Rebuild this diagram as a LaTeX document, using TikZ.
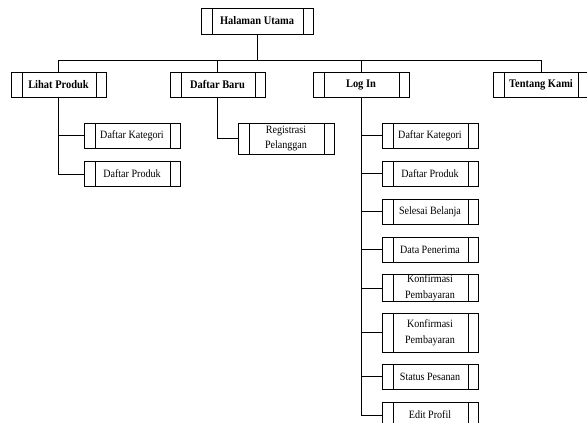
\documentclass[tikz,border=0pt]{standalone}
\usepackage{fontspec}
\setmainfont[FakeStretch=0.9]{Liberation Serif}
\tikzset{
    menu/.style={draw, minimum width=95pt, minimum height=25pt, inner sep=0pt,
      font=\fontsize{11.6}{13}\selectfont\bfseries,
      path picture={\draw ([xshift=11pt]path picture bounding box.north west) -- ([xshift=11pt]path picture bounding box.south west)
        ([xshift=-10pt]path picture bounding box.north east) -- ([xshift=-10pt]path picture bounding box.south east);}},
    submenu/.style={menu, minimum width=96pt, font=\fontsize{11.2}{16}\selectfont, align=center}}

\begin{document}
\begin{tikzpicture}[x=1pt, y=-1pt, line width=0.9pt]
    \useasboundingbox (0,0) rectangle (587,423);
    \clip (0,0) rectangle (587,423);
    % menu utama
    \node[menu, minimum width=112pt, minimum height=26pt] (utama) at (257,21) {Halaman Utama};
    \node[menu] (lihat) at (58.5,84.5) {Lihat Produk};
    \node[menu] (daftar) at (217.5,84.5) {Daftar Baru};
    \node[menu, minimum width=96pt] (login) at (361,84.5) {Log In};
    \node[menu] (tentang) at (541,84.5) {Tentang Kami};
    \coordinate (bus) at (257,60);
    \draw (utama) -- (bus);
    \foreach \n in {lihat, daftar, login, tentang}
      \draw (bus) -| (\n);
    % lihat produk
    \node[submenu] (lkat) at (132,135.5) {Daftar Kategori};
    \node[submenu] (lprod) at (132,174) {Daftar Produk};
    \foreach \n in {lkat, lprod}
      \draw (lihat) |- (\n);
    % daftar baru
    \node[submenu, minimum height=31pt, font=\fontsize{11.2}{14}\selectfont] (reg) at (286,138.5) {Registrasi\\Pelanggan};
    \draw (daftar) |- (reg);
    % log in
    \node[submenu] (gkat) at (430,135.5) {Daftar Kategori};
    \node[submenu] (gprod) at (430,173.5) {Daftar Produk};
    \node[submenu] (gsel) at (430,211.5) {Selesai Belanja};
    \node[submenu] (gdata) at (430,249.5) {Data Penerima};
    \node[submenu, minimum height=26pt] (gkonfa) at (430,288) {Konfirmasi\\Pembayaran};
    \node[submenu, minimum height=39pt] (gkonfb) at (430,332.5) {Konfirmasi\\Pembayaran};
    \node[submenu] (gstat) at (430,376.5) {Status Pesanan};
    \node[submenu, minimum height=26pt] (gedit) at (430,415) {Edit Profil};
    \foreach \n in {gkat, gprod, gsel, gdata, gkonfa, gkonfb, gstat, gedit}
      \draw (login) |- (\n);
\end{tikzpicture}
\end{document}
